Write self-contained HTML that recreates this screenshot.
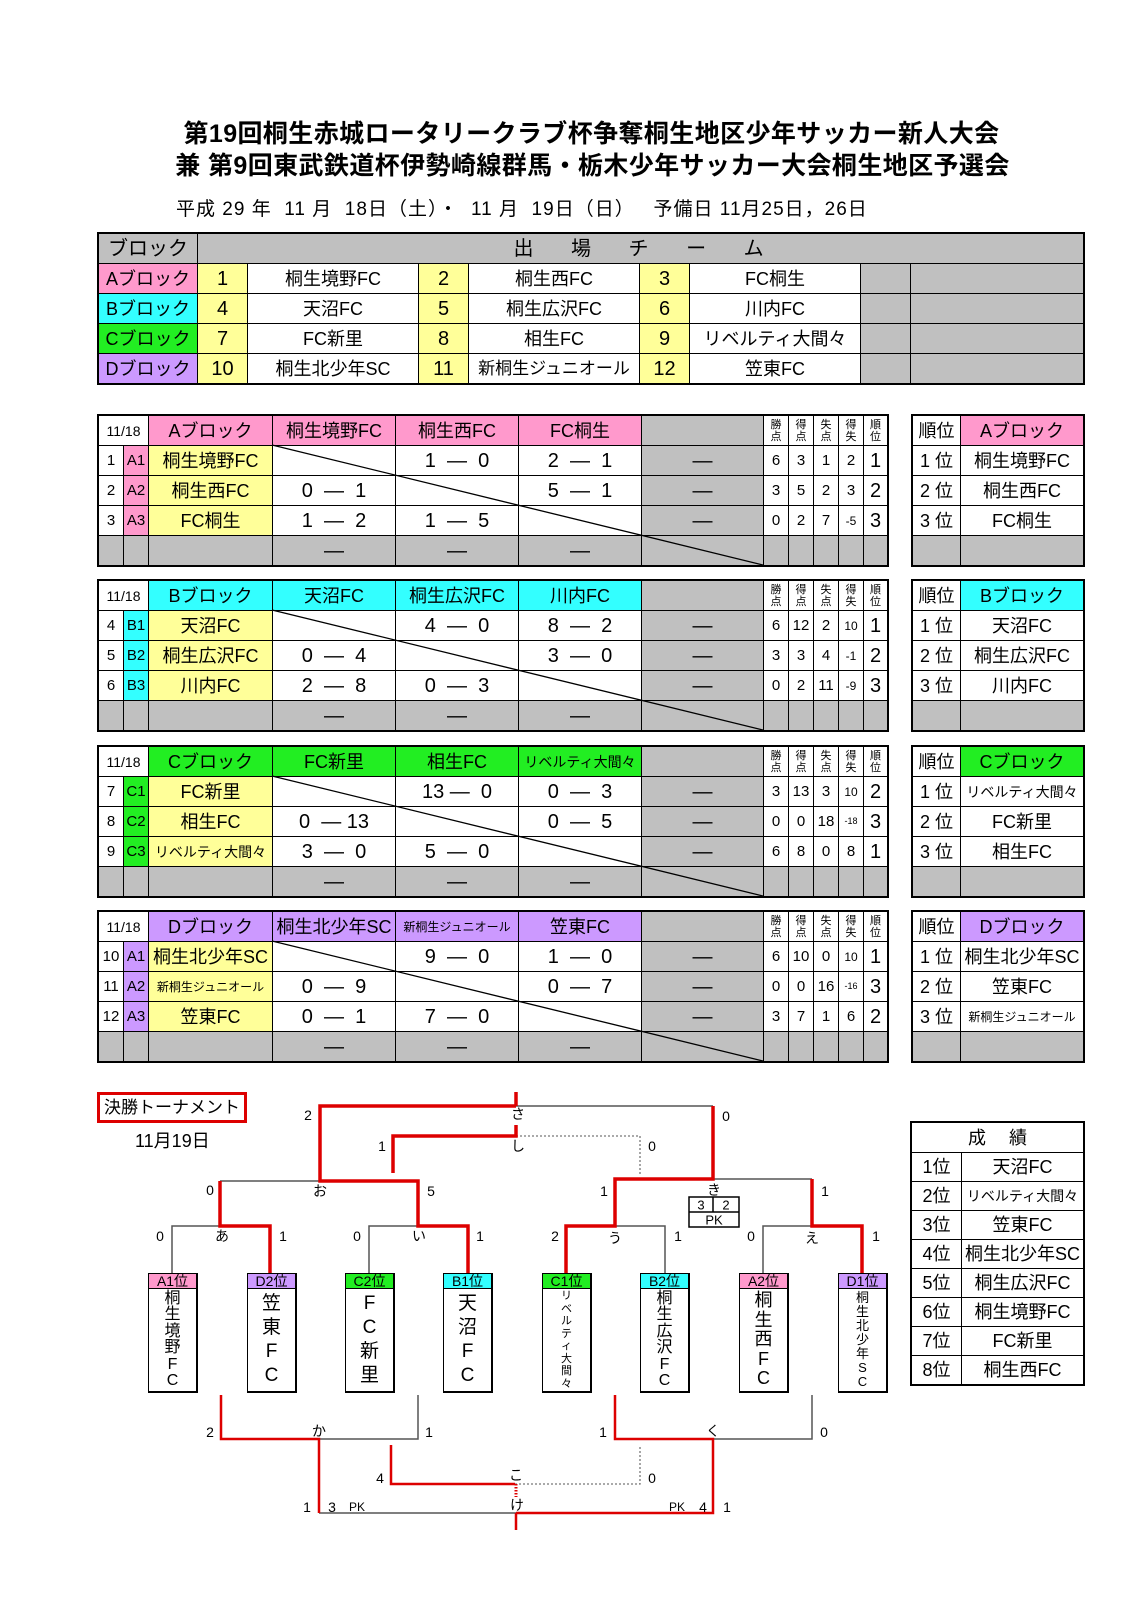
<!DOCTYPE html>
<html><head><meta charset="utf-8">
<style>
body{margin:0;background:#fff;}
#p{position:relative;width:1131px;height:1600px;overflow:hidden;font-family:"Liberation Sans","Noto Sans CJK JP",sans-serif;color:#000;}
.t{position:absolute;white-space:nowrap;}
table{border-collapse:collapse;position:absolute;table-layout:fixed;}
td{border:1px solid #000;padding:0;text-align:center;font-size:18px;white-space:nowrap;overflow:hidden;line-height:1;}
table.o{outline:2px solid #000;outline-offset:-1px;}
.y{background:#ffff99}.g{background:#c0c0c0}.a{background:#ff99cc}.b{background:#33ffff}.c{background:#22ee22}.d{background:#cc99ff}
.st{font-size:15px}.sh{font-size:11px;line-height:12px}.rk{font-size:20px}
.sm{font-size:12px}
.lb{position:absolute;transform:translate(-50%,-50%);font-size:14px;white-space:nowrap;}
.bx{position:absolute;width:47px;height:117px;border:1px solid #000;border-bottom:2px solid #000;border-right:2px solid #000;background:#fff;overflow:hidden;}
.bh{height:14px;border-bottom:1px solid #000;font-size:14px;line-height:14px;text-align:center;}
.bv{display:flex;flex-direction:column;align-items:center;justify-content:center;height:102px;font-size:16px;line-height:16.5px;}
.bv span{display:block;}
</style></head><body><div id="p">

<div class="t" style="left:0;width:1183px;top:114px;text-align:center;font-size:25px;font-weight:bold;letter-spacing:0.4px;">第19回桐生赤城ロータリークラブ杯争奪桐生地区少年サッカー新人大会</div>
<div class="t" style="left:0;width:1185px;top:146px;text-align:center;font-size:25px;font-weight:bold;letter-spacing:0.4px;">兼 第9回東武鉄道杯伊勢崎線群馬・栃木少年サッカー大会桐生地区予選会</div>
<div class="t" style="left:176px;top:194px;font-size:19px;letter-spacing:1px;">平成 29 年&nbsp; 11 月&nbsp; 18日（土）・&nbsp; 11 月&nbsp; 19日（日）&nbsp;&nbsp; 予備日 11月25日，26日</div>

<table class="o" style="left:98px;top:233px;width:985px;">
<colgroup><col style="width:99px"><col style="width:50px"><col style="width:171px"><col style="width:50px"><col style="width:171px"><col style="width:50px"><col style="width:171px"><col style="width:50px"><col style="width:173px"></colgroup>
<tr style="height:30px"><td class="g" style="font-size:20px">ブロック</td><td class="g" colspan="8" style="font-size:20px;letter-spacing:4px">出　 場　 チ　 ー　 ム</td></tr>
<tr style="height:30px"><td class="a">Aブロック</td><td class="y rk" style="border-right:1px dotted #000">1</td><td>桐生境野FC</td><td class="y rk" style="border-right:1px dotted #000">2</td><td>桐生西FC</td><td class="y rk" style="border-right:1px dotted #000">3</td><td>FC桐生</td><td class="g" style="border-right:1px dotted #000"></td><td class="g"></td></tr>
<tr style="height:30px"><td class="b">Bブロック</td><td class="y rk" style="border-right:1px dotted #000">4</td><td>天沼FC</td><td class="y rk" style="border-right:1px dotted #000">5</td><td>桐生広沢FC</td><td class="y rk" style="border-right:1px dotted #000">6</td><td>川内FC</td><td class="g" style="border-right:1px dotted #000"></td><td class="g"></td></tr>
<tr style="height:30px"><td class="c">Cブロック</td><td class="y rk" style="border-right:1px dotted #000">7</td><td>FC新里</td><td class="y rk" style="border-right:1px dotted #000">8</td><td>相生FC</td><td class="y rk" style="border-right:1px dotted #000">9</td><td>リベルティ大間々</td><td class="g" style="border-right:1px dotted #000"></td><td class="g"></td></tr>
<tr style="height:30px"><td class="d">Dブロック</td><td class="y rk" style="border-right:1px dotted #000">10</td><td>桐生北少年SC</td><td class="y rk" style="border-right:1px dotted #000">11</td><td style="font-size:17px">新桐生ジュニオール</td><td class="y rk" style="border-right:1px dotted #000">12</td><td>笠東FC</td><td class="g" style="border-right:1px dotted #000"></td><td class="g"></td></tr>
</table>

<table class="o" style="left:98px;top:415px;width:789px;">
<colgroup><col style="width:25px"><col style="width:25px"><col style="width:124px"><col style="width:123px"><col style="width:123px"><col style="width:123px"><col style="width:122px"><col style="width:25px"><col style="width:25px"><col style="width:25px"><col style="width:25px"><col style="width:24px"></colgroup>
<tr style="height:30px"><td colspan="2" style="font-size:14px">11/18</td><td class="a">Aブロック</td><td class="a">桐生境野FC</td><td class="a">桐生西FC</td><td class="a">FC桐生</td><td class="g"></td><td class="sh">勝<br>点</td><td class="sh">得<br>点</td><td class="sh">失<br>点</td><td class="sh">得<br>失</td><td class="sh">順<br>位</td></tr>
<tr style="height:30px"><td class="st">1</td><td class="a st">A1</td><td class="y">桐生境野FC</td><td></td><td class="rk">1 &nbsp;— &nbsp;0</td><td class="rk">2 &nbsp;— &nbsp;1</td><td class="g rk">—</td><td class="st">6</td><td class="st">3</td><td class="st">1</td><td class="st">2</td><td class="rk">1</td></tr>
<tr style="height:30px"><td class="st">2</td><td class="a st">A2</td><td class="y">桐生西FC</td><td class="rk">0 &nbsp;— &nbsp;1</td><td></td><td class="rk">5 &nbsp;— &nbsp;1</td><td class="g rk">—</td><td class="st">3</td><td class="st">5</td><td class="st">2</td><td class="st">3</td><td class="rk">2</td></tr>
<tr style="height:30px"><td class="st">3</td><td class="a st">A3</td><td class="y">FC桐生</td><td class="rk">1 &nbsp;— &nbsp;2</td><td class="rk">1 &nbsp;— &nbsp;5</td><td></td><td class="g rk">—</td><td class="st">0</td><td class="st">2</td><td class="st">7</td><td class="sm">-5</td><td class="rk">3</td></tr>
<tr style="height:30px"><td class="g"></td><td class="g"></td><td class="g"></td><td class="g rk">—</td><td class="g rk">—</td><td class="g rk">—</td><td class="g"></td><td class="g"></td><td class="g"></td><td class="g"></td><td class="g"></td><td class="g"></td></tr>
</table>
<table class="o" style="left:912px;top:415px;width:171px;">
<colgroup><col style="width:48px"><col style="width:123px"></colgroup>
<tr style="height:30px"><td>順位</td><td class="a">Aブロック</td></tr>
<tr style="height:30px"><td>1 位</td><td>桐生境野FC</td></tr>
<tr style="height:30px"><td>2 位</td><td>桐生西FC</td></tr>
<tr style="height:30px"><td>3 位</td><td>FC桐生</td></tr>
<tr style="height:30px"><td class="g"></td><td class="g"></td></tr>
</table>

<table class="o" style="left:98px;top:580px;width:789px;">
<colgroup><col style="width:25px"><col style="width:25px"><col style="width:124px"><col style="width:123px"><col style="width:123px"><col style="width:123px"><col style="width:122px"><col style="width:25px"><col style="width:25px"><col style="width:25px"><col style="width:25px"><col style="width:24px"></colgroup>
<tr style="height:30px"><td colspan="2" style="font-size:14px">11/18</td><td class="b">Bブロック</td><td class="b">天沼FC</td><td class="b">桐生広沢FC</td><td class="b">川内FC</td><td class="g"></td><td class="sh">勝<br>点</td><td class="sh">得<br>点</td><td class="sh">失<br>点</td><td class="sh">得<br>失</td><td class="sh">順<br>位</td></tr>
<tr style="height:30px"><td class="st">4</td><td class="b st">B1</td><td class="y">天沼FC</td><td></td><td class="rk">4 &nbsp;— &nbsp;0</td><td class="rk">8 &nbsp;— &nbsp;2</td><td class="g rk">—</td><td class="st">6</td><td class="st">12</td><td class="st">2</td><td class="sm">10</td><td class="rk">1</td></tr>
<tr style="height:30px"><td class="st">5</td><td class="b st">B2</td><td class="y">桐生広沢FC</td><td class="rk">0 &nbsp;— &nbsp;4</td><td></td><td class="rk">3 &nbsp;— &nbsp;0</td><td class="g rk">—</td><td class="st">3</td><td class="st">3</td><td class="st">4</td><td class="sm">-1</td><td class="rk">2</td></tr>
<tr style="height:30px"><td class="st">6</td><td class="b st">B3</td><td class="y">川内FC</td><td class="rk">2 &nbsp;— &nbsp;8</td><td class="rk">0 &nbsp;— &nbsp;3</td><td></td><td class="g rk">—</td><td class="st">0</td><td class="st">2</td><td class="st">11</td><td class="sm">-9</td><td class="rk">3</td></tr>
<tr style="height:30px"><td class="g"></td><td class="g"></td><td class="g"></td><td class="g rk">—</td><td class="g rk">—</td><td class="g rk">—</td><td class="g"></td><td class="g"></td><td class="g"></td><td class="g"></td><td class="g"></td><td class="g"></td></tr>
</table>
<table class="o" style="left:912px;top:580px;width:171px;">
<colgroup><col style="width:48px"><col style="width:123px"></colgroup>
<tr style="height:30px"><td>順位</td><td class="b">Bブロック</td></tr>
<tr style="height:30px"><td>1 位</td><td>天沼FC</td></tr>
<tr style="height:30px"><td>2 位</td><td>桐生広沢FC</td></tr>
<tr style="height:30px"><td>3 位</td><td>川内FC</td></tr>
<tr style="height:30px"><td class="g"></td><td class="g"></td></tr>
</table>

<table class="o" style="left:98px;top:746px;width:789px;">
<colgroup><col style="width:25px"><col style="width:25px"><col style="width:124px"><col style="width:123px"><col style="width:123px"><col style="width:123px"><col style="width:122px"><col style="width:25px"><col style="width:25px"><col style="width:25px"><col style="width:25px"><col style="width:24px"></colgroup>
<tr style="height:30px"><td colspan="2" style="font-size:14px">11/18</td><td class="c">Cブロック</td><td class="c">FC新里</td><td class="c">相生FC</td><td class="c" style="font-size:14px">リベルティ大間々</td><td class="g"></td><td class="sh">勝<br>点</td><td class="sh">得<br>点</td><td class="sh">失<br>点</td><td class="sh">得<br>失</td><td class="sh">順<br>位</td></tr>
<tr style="height:30px"><td class="st">7</td><td class="c st">C1</td><td class="y">FC新里</td><td></td><td class="rk">13 — &nbsp;0</td><td class="rk">0 &nbsp;— &nbsp;3</td><td class="g rk">—</td><td class="st">3</td><td class="st">13</td><td class="st">3</td><td class="sm">10</td><td class="rk">2</td></tr>
<tr style="height:30px"><td class="st">8</td><td class="c st">C2</td><td class="y">相生FC</td><td class="rk">0 &nbsp;— 13</td><td></td><td class="rk">0 &nbsp;— &nbsp;5</td><td class="g rk">—</td><td class="st">0</td><td class="st">0</td><td class="st">18</td><td class="sm" style="font-size:9px">-18</td><td class="rk">3</td></tr>
<tr style="height:30px"><td class="st">9</td><td class="c st">C3</td><td class="y" style="font-size:14px">リベルティ大間々</td><td class="rk">3 &nbsp;— &nbsp;0</td><td class="rk">5 &nbsp;— &nbsp;0</td><td></td><td class="g rk">—</td><td class="st">6</td><td class="st">8</td><td class="st">0</td><td class="st">8</td><td class="rk">1</td></tr>
<tr style="height:30px"><td class="g"></td><td class="g"></td><td class="g"></td><td class="g rk">—</td><td class="g rk">—</td><td class="g rk">—</td><td class="g"></td><td class="g"></td><td class="g"></td><td class="g"></td><td class="g"></td><td class="g"></td></tr>
</table>
<table class="o" style="left:912px;top:746px;width:171px;">
<colgroup><col style="width:48px"><col style="width:123px"></colgroup>
<tr style="height:30px"><td>順位</td><td class="c">Cブロック</td></tr>
<tr style="height:30px"><td>1 位</td><td style="font-size:14px">リベルティ大間々</td></tr>
<tr style="height:30px"><td>2 位</td><td>FC新里</td></tr>
<tr style="height:30px"><td>3 位</td><td>相生FC</td></tr>
<tr style="height:30px"><td class="g"></td><td class="g"></td></tr>
</table>

<table class="o" style="left:98px;top:911px;width:789px;">
<colgroup><col style="width:25px"><col style="width:25px"><col style="width:124px"><col style="width:123px"><col style="width:123px"><col style="width:123px"><col style="width:122px"><col style="width:25px"><col style="width:25px"><col style="width:25px"><col style="width:25px"><col style="width:24px"></colgroup>
<tr style="height:30px"><td colspan="2" style="font-size:14px">11/18</td><td class="d">Dブロック</td><td class="d">桐生北少年SC</td><td class="d" style="font-size:12px">新桐生ジュニオール</td><td class="d">笠東FC</td><td class="g"></td><td class="sh">勝<br>点</td><td class="sh">得<br>点</td><td class="sh">失<br>点</td><td class="sh">得<br>失</td><td class="sh">順<br>位</td></tr>
<tr style="height:30px"><td class="st">10</td><td class="d st">A1</td><td class="y">桐生北少年SC</td><td></td><td class="rk">9 &nbsp;— &nbsp;0</td><td class="rk">1 &nbsp;— &nbsp;0</td><td class="g rk">—</td><td class="st">6</td><td class="st">10</td><td class="st">0</td><td class="sm">10</td><td class="rk">1</td></tr>
<tr style="height:30px"><td class="st">11</td><td class="d st">A2</td><td class="y" style="font-size:12px">新桐生ジュニオール</td><td class="rk">0 &nbsp;— &nbsp;9</td><td></td><td class="rk">0 &nbsp;— &nbsp;7</td><td class="g rk">—</td><td class="st">0</td><td class="st">0</td><td class="st">16</td><td class="sm" style="font-size:9px">-16</td><td class="rk">3</td></tr>
<tr style="height:30px"><td class="st">12</td><td class="d st">A3</td><td class="y">笠東FC</td><td class="rk">0 &nbsp;— &nbsp;1</td><td class="rk">7 &nbsp;— &nbsp;0</td><td></td><td class="g rk">—</td><td class="st">3</td><td class="st">7</td><td class="st">1</td><td class="st">6</td><td class="rk">2</td></tr>
<tr style="height:30px"><td class="g"></td><td class="g"></td><td class="g"></td><td class="g rk">—</td><td class="g rk">—</td><td class="g rk">—</td><td class="g"></td><td class="g"></td><td class="g"></td><td class="g"></td><td class="g"></td><td class="g"></td></tr>
</table>
<table class="o" style="left:912px;top:911px;width:171px;">
<colgroup><col style="width:48px"><col style="width:123px"></colgroup>
<tr style="height:30px"><td>順位</td><td class="d">Dブロック</td></tr>
<tr style="height:30px"><td>1 位</td><td>桐生北少年SC</td></tr>
<tr style="height:30px"><td>2 位</td><td>笠東FC</td></tr>
<tr style="height:30px"><td>3 位</td><td style="font-size:12px">新桐生ジュニオール</td></tr>
<tr style="height:30px"><td class="g"></td><td class="g"></td></tr>
</table>

<table class="o" style="left:911px;top:1122px;width:172px;">
<colgroup><col style="width:50px"><col style="width:122px"></colgroup>
<tr style="height:30px"><td colspan="2">成　 績</td></tr>
<tr style="height:29px"><td>1位</td><td>天沼FC</td></tr>
<tr style="height:29px"><td>2位</td><td style="font-size:14px">リベルティ大間々</td></tr>
<tr style="height:29px"><td>3位</td><td>笠東FC</td></tr>
<tr style="height:29px"><td>4位</td><td>桐生北少年SC</td></tr>
<tr style="height:29px"><td>5位</td><td>桐生広沢FC</td></tr>
<tr style="height:29px"><td>6位</td><td>桐生境野FC</td></tr>
<tr style="height:29px"><td>7位</td><td>FC新里</td></tr>
<tr style="height:29px"><td>8位</td><td>桐生西FC</td></tr>
</table>

<div class="t" style="left:97px;top:1092px;width:144px;height:25px;border:3px solid #d00;font-size:17px;line-height:25px;text-align:center;">決勝トーナメント</div>
<div class="t" style="left:135px;top:1127px;font-size:18px;">11月19日</div>

<div class="bx" style="left:148px;top:1273px;"><div class="bh a">A1位</div><div class="bv"><span>桐</span><span>生</span><span>境</span><span>野</span><span>F</span><span>C</span></div></div>
<div class="bx" style="left:247px;top:1273px;"><div class="bh d">D2位</div><div class="bv" style="font-size:19px;line-height:24px"><span>笠</span><span>東</span><span>F</span><span>C</span></div></div>
<div class="bx" style="left:345px;top:1273px;"><div class="bh c">C2位</div><div class="bv" style="font-size:19px;line-height:24px"><span>F</span><span>C</span><span>新</span><span>里</span></div></div>
<div class="bx" style="left:443px;top:1273px;"><div class="bh b">B1位</div><div class="bv" style="font-size:19px;line-height:24px"><span>天</span><span>沼</span><span>F</span><span>C</span></div></div>
<div class="bx" style="left:542px;top:1273px;"><div class="bh c">C1位</div><div class="bv" style="font-size:11px;line-height:12.5px"><span>リ</span><span>ベ</span><span>ル</span><span>テ</span><span>ィ</span><span>大</span><span>間</span><span>々</span></div></div>
<div class="bx" style="left:640px;top:1273px;"><div class="bh b">B2位</div><div class="bv"><span>桐</span><span>生</span><span>広</span><span>沢</span><span>F</span><span>C</span></div></div>
<div class="bx" style="left:739px;top:1273px;"><div class="bh a">A2位</div><div class="bv" style="font-size:18px;line-height:19.5px"><span>桐</span><span>生</span><span>西</span><span>F</span><span>C</span></div></div>
<div class="bx" style="left:838px;top:1273px;"><div class="bh d">D1位</div><div class="bv" style="font-size:13px;line-height:14px"><span>桐</span><span>生</span><span>北</span><span>少</span><span>年</span><span>S</span><span>C</span></div></div>

<svg width="1131" height="1600" style="position:absolute;left:0;top:0;" fill="none">
<g stroke="#000" stroke-width="1.3">
<line x1="272" y1="445" x2="763" y2="565"/>
<line x1="272" y1="610" x2="763" y2="730"/>
<line x1="272" y1="776" x2="763" y2="896"/>
<line x1="272" y1="941" x2="763" y2="1061"/>
</g>
<g stroke="#555" stroke-width="1.5">
<polyline points="172,1273 172,1226 220,1226"/>
<polyline points="369,1273 369,1226 418,1226"/>
<polyline points="220,1181 320,1181"/>
<polyline points="516,1106 713,1106"/>
<polyline points="665,1273 665,1226 615,1226"/>
<polyline points="763,1273 763,1226 812,1226"/>
<polyline points="713,1179 812,1179"/>
<polyline points="319,1439 418,1439 418,1395"/>
<polyline points="713,1439 812,1439 812,1395"/>
<polyline points="319,1513 516,1513"/>
<rect x="689" y="1197" width="50" height="30" stroke="#000"/>
<line x1="689" y1="1212" x2="739" y2="1212" stroke="#000"/>
<line x1="713" y1="1197" x2="713" y2="1212" stroke="#000"/>
</g>
<g stroke="#777" stroke-width="1.3" stroke-dasharray="2,2">
<polyline points="516,1136 640,1136 640,1176"/>
<polyline points="515,1484 640,1484 640,1445"/>
</g>
<g stroke="#d00" stroke-width="3.5">
<polyline points="270,1273 270,1226 220,1226 220,1181"/>
<polyline points="468,1273 468,1226 418,1226 418,1181 320,1181 320,1106 516,1106"/>
<line x1="516" y1="1092" x2="516" y2="1106"/>
<polyline points="393,1173 393,1136 516,1136 516,1125"/>
<polyline points="566,1273 566,1226 615,1226 615,1179 713,1179 713,1106"/>
<polyline points="862,1273 862,1226 812,1226 812,1179"/>
</g>
<g stroke="#d00" stroke-width="2.5">
<polyline points="221,1395 221,1439 319,1439 319,1513"/>
<polyline points="615,1395 615,1439 713,1439 713,1513 516,1513"/>
<polyline points="391,1445 391,1484 515,1484"/>
<line x1="516" y1="1513" x2="516" y2="1530"/>
<line x1="516" y1="1484" x2="516" y2="1497" stroke-dasharray="1.5,1.5" stroke-width="3"/>
</g>
</svg>

<span class="lb" style="left:308px;top:1115px">2</span>
<span class="lb" style="left:518px;top:1114px">さ</span>
<span class="lb" style="left:726px;top:1116px">0</span>
<span class="lb" style="left:382px;top:1146px">1</span>
<span class="lb" style="left:518px;top:1146px">し</span>
<span class="lb" style="left:652px;top:1146px">0</span>
<span class="lb" style="left:210px;top:1190px">0</span>
<span class="lb" style="left:320px;top:1191px">お</span>
<span class="lb" style="left:431px;top:1191px">5</span>
<span class="lb" style="left:604px;top:1191px">1</span>
<span class="lb" style="left:714px;top:1190px">き</span>
<span class="lb" style="left:825px;top:1191px">1</span>
<span class="lb" style="left:701px;top:1205px;font-size:13px">3</span>
<span class="lb" style="left:726px;top:1205px;font-size:13px">2</span>
<span class="lb" style="left:714px;top:1220px;font-size:13px">PK</span>
<span class="lb" style="left:160px;top:1236px">0</span>
<span class="lb" style="left:222px;top:1236px">あ</span>
<span class="lb" style="left:283px;top:1236px">1</span>
<span class="lb" style="left:357px;top:1236px">0</span>
<span class="lb" style="left:419px;top:1236px">い</span>
<span class="lb" style="left:480px;top:1236px">1</span>
<span class="lb" style="left:555px;top:1236px">2</span>
<span class="lb" style="left:615px;top:1238px">う</span>
<span class="lb" style="left:678px;top:1236px">1</span>
<span class="lb" style="left:751px;top:1236px">0</span>
<span class="lb" style="left:812px;top:1238px">え</span>
<span class="lb" style="left:876px;top:1236px">1</span>
<span class="lb" style="left:210px;top:1432px">2</span>
<span class="lb" style="left:319px;top:1431px">か</span>
<span class="lb" style="left:429px;top:1432px">1</span>
<span class="lb" style="left:603px;top:1432px">1</span>
<span class="lb" style="left:713px;top:1431px">く</span>
<span class="lb" style="left:824px;top:1432px">0</span>
<span class="lb" style="left:380px;top:1478px">4</span>
<span class="lb" style="left:516px;top:1475px">こ</span>
<span class="lb" style="left:652px;top:1478px">0</span>
<span class="lb" style="left:307px;top:1507px">1</span>
<span class="lb" style="left:332px;top:1507px">3</span>
<span class="lb" style="left:357px;top:1507px;font-size:12px">PK</span>
<span class="lb" style="left:517px;top:1505px">け</span>
<span class="lb" style="left:677px;top:1507px;font-size:12px">PK</span>
<span class="lb" style="left:703px;top:1507px">4</span>
<span class="lb" style="left:727px;top:1507px">1</span>

</div></body></html>
